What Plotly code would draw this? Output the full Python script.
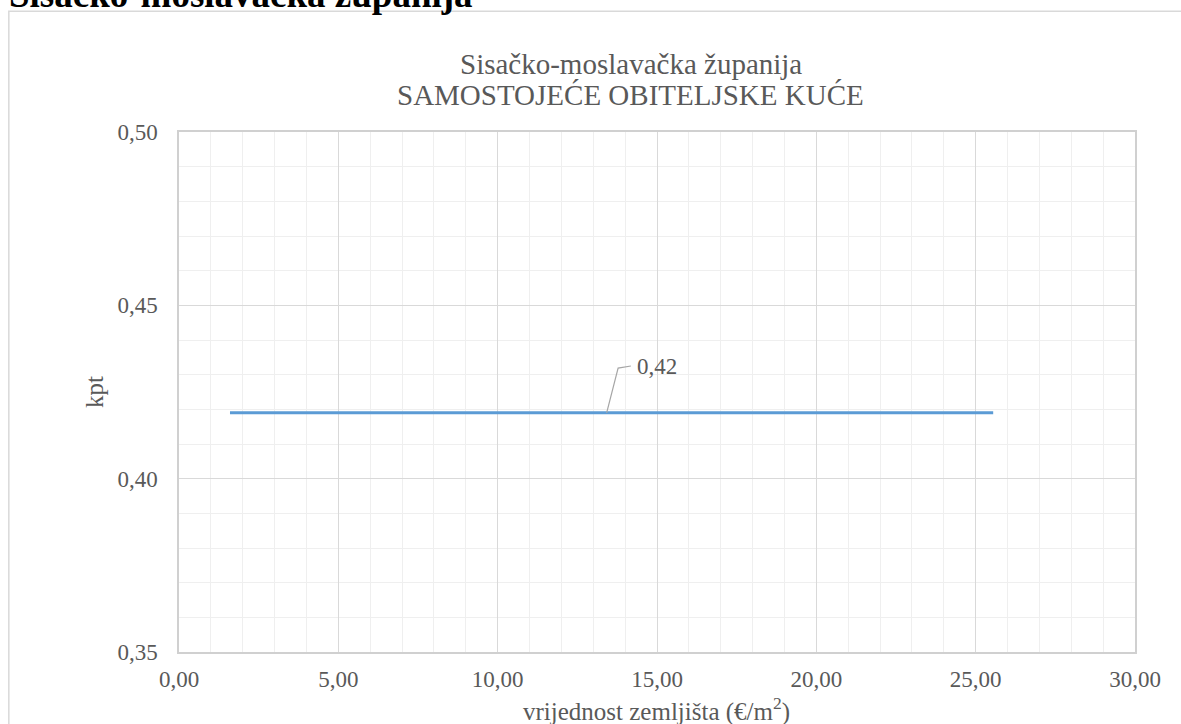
import plotly.graph_objects as go

# Data
x_values = [1.6, 25.55]
kpt_values = [0.419, 0.419]
label_text = "0,42"
x_ticks = [0, 5, 10, 15, 20, 25, 30]
y_ticks = [0.35, 0.40, 0.45, 0.50]

SERIF = "Liberation Serif, Times New Roman, serif"
GRAY_TXT = "#595959"

fig = go.Figure()
fig.add_trace(go.Scatter(
    x=x_values, y=kpt_values, mode="lines",
    line=dict(color="#5b9bd5", width=3),
    hoverinfo="skip", showlegend=False,
))

# data label with leader line
lx = 13.42
ly = kpt_values[0]
fig.add_shape(type="path", xref="x", yref="y",
              path=f"M {lx},{ly} L {lx+0.36},{ly+0.0129} L {lx+0.76},{ly+0.0135}",
              line=dict(color="#a6a6a6", width=1.2))
fig.add_annotation(x=lx + 0.9, y=ly + 0.0135, xref="x", yref="y",
                   text=label_text, showarrow=False, xanchor="left", yanchor="middle",
                   font=dict(family=SERIF, size=23, color=GRAY_TXT))

# Titles
fig.add_annotation(x=0.4728, y=1.130, xref="paper", yref="paper",
                   text="Sisačko-moslavačka županija", showarrow=False,
                   xanchor="center", yanchor="middle",
                   font=dict(family=SERIF, size=29, color=GRAY_TXT))
fig.add_annotation(x=0.4728, y=1.071, xref="paper", yref="paper",
                   text="SAMOSTOJEĆE OBITELJSKE KUĆE", showarrow=False,
                   xanchor="center", yanchor="middle",
                   font=dict(family=SERIF, size=29, color=GRAY_TXT))
# cropped page heading
fig.add_annotation(x=0.3096, y=1.265, xref="paper", yref="paper",
                   text="<b>Sisačko-moslavačka županija</b>", showarrow=False,
                   xanchor="right", yanchor="middle",
                   font=dict(family=SERIF, size=37, color="#000000"))
# axis titles
fig.add_annotation(x=0.499, y=-0.1115, xref="paper", yref="paper",
                   text="vrijednost zemljišta (€/m<sup>2</sup>)", showarrow=False,
                   xanchor="center", yanchor="middle",
                   font=dict(family=SERIF, size=25, color=GRAY_TXT))
fig.add_annotation(x=-0.089, y=0.5, xref="paper", yref="paper",
                   text="kpt", showarrow=False, textangle=-90,
                   xanchor="center", yanchor="middle",
                   font=dict(family=SERIF, size=25, color=GRAY_TXT))

# outer chart border
fig.add_shape(type="rect", xref="paper", yref="paper",
              x0=-0.178, x1=1.06, y0=-0.2, y1=1.232,
              line=dict(color="#d9d9d9", width=1.5), fillcolor="rgba(0,0,0,0)", layer="below")

fig.update_layout(
    width=1181, height=724,
    margin=dict(l=179, r=46, t=132, b=72),
    paper_bgcolor="white", plot_bgcolor="white",
    separators=",.",
    showlegend=False,
)
fig.update_xaxes(
    range=[0, 30], tickvals=x_ticks, tickformat=".2f",
    showgrid=True, gridcolor="#d9d9d9", gridwidth=1,
    minor=dict(dtick=1, showgrid=True, gridcolor="#efefef", gridwidth=1),
    showline=True, linecolor="#d0d0d0", linewidth=1.5, mirror=True,
    ticks="outside", ticklen=6, tickcolor="rgba(0,0,0,0)",
    tickfont=dict(family=SERIF, size=23, color=GRAY_TXT),
    zeroline=False,
)
fig.update_yaxes(
    range=[0.35, 0.50], tickvals=y_ticks, tickformat=".2f",
    showgrid=True, gridcolor="#d9d9d9", gridwidth=1,
    minor=dict(dtick=0.01, showgrid=True, gridcolor="#efefef", gridwidth=1),
    showline=True, linecolor="#d0d0d0", linewidth=1.5, mirror=True,
    ticks="outside", ticklen=15, tickcolor="rgba(0,0,0,0)",
    tickfont=dict(family=SERIF, size=23, color=GRAY_TXT),
    zeroline=False,
)

fig.write_html("out.html", config={"displayModeBar": False},
               post_script="document.body.style.margin='0';document.body.style.overflow='hidden';")
